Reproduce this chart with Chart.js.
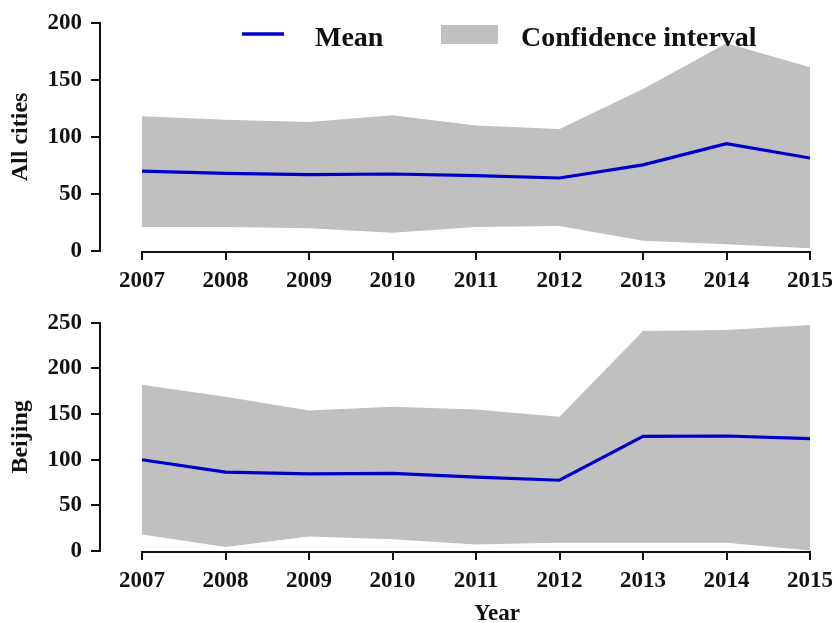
<!DOCTYPE html>
<html>
<head>
<meta charset="utf-8">
<script src="https://cdn.jsdelivr.net/npm/chart.js@4.4.0/dist/chart.umd.min.js"></script>
<style>
  html, body { margin: 0; padding: 0; background: #fff; }
  .panel { position: absolute; left: 0; }
</style>
</head>
<body>
<div class="panel" style="top:0"><canvas id="allCities" width="835" height="300"></canvas></div>
<div class="panel" style="top:300px"><canvas id="beijing" width="835" height="323"></canvas></div>
<script>
var years = [2007, 2008, 2009, 2010, 2011, 2012, 2013, 2014, 2015];

// All cities
var allMean  = [70, 68, 67, 67.5, 66, 64, 75.5, 94, 81.5];
var allUpper = [118, 115, 113, 119, 110, 107, 142, 182, 161];
var allLower = [21, 21, 20, 16, 21, 22, 9, 6, 2.5];
var allTicks = [0, 50, 100, 150, 200];

// Beijing
var bjMean  = [100, 86.5, 84.5, 85, 81, 77.5, 125.5, 126, 123];
var bjUpper = [182, 169, 154, 158, 155, 147, 241, 242, 247.5];
var bjLower = [18, 4.5, 16, 13, 7, 9, 9, 9, 0.5];
var bjTicks = [0, 50, 100, 150, 200, 250];

var legendLabels = ['Mean', 'Confidence interval'];

var serif = "'Liberation Serif', 'Times New Roman', serif";
var blue = '#0000cc';
var grey = '#c0c0c0';
var ink = '#111';

function pts(arr) {
  return years.map(function (yr, i) { return { x: yr, y: arr[i] }; });
}

// x axis line only runs from first to last year (R style)
var xAxisLine = {
  id: 'xAxisLine',
  afterDraw: function (chart) {
    var x = chart.scales.x, y = chart.scales.y, c = chart.ctx;
    var py = Math.round(y.getPixelForValue(0)) + 1;
    c.save();
    c.strokeStyle = ink;
    c.lineWidth = 2;
    c.beginPath();
    c.moveTo(x.getPixelForValue(years[0]) - 1, py);
    c.lineTo(x.getPixelForValue(years[years.length - 1]) + 1, py);
    c.stroke();
    c.restore();
  }
};

var legendPlugin = {
  id: 'legendPlugin',
  afterDraw: function (chart) {
    var c = chart.ctx;
    c.save();
    c.strokeStyle = blue;
    c.lineWidth = 3.5;
    c.beginPath();
    c.moveTo(242, 34);
    c.lineTo(284, 34);
    c.stroke();
    c.fillStyle = grey;
    c.fillRect(441, 25, 57, 19);
    c.fillStyle = ink;
    c.font = 'bold 28px ' + serif;
    c.textBaseline = 'alphabetic';
    c.fillText(legendLabels[0], 315, 46);
    c.fillText(legendLabels[1], 521, 46);
    c.restore();
  }
};

var yearTitle = {
  id: 'yearTitle',
  afterDraw: function (chart) {
    var c = chart.ctx;
    c.save();
    c.fillStyle = ink;
    c.font = 'bold 23px ' + serif;
    c.textAlign = 'center';
    c.textBaseline = 'alphabetic';
    c.fillText('Year', 497, 320);
    c.restore();
  }
};

function makeChart(id, mean, upper, lower, ticks, yTitle, xHeight, top, plugins) {
  return new Chart(document.getElementById(id), {
    type: 'line',
    data: {
      datasets: [
        { label: legendLabels[0], data: pts(mean), borderColor: blue, borderWidth: 3.2, pointRadius: 0, fill: false, tension: 0 },
        { label: 'lower', data: pts(lower), borderWidth: 0, pointRadius: 0, fill: false, borderColor: 'rgba(0,0,0,0)' },
        { label: legendLabels[1], data: pts(upper), borderWidth: 0, pointRadius: 0, fill: '-1', backgroundColor: grey, borderColor: 'rgba(0,0,0,0)' }
      ]
    },
    options: {
      responsive: false,
      animation: false,
      layout: { padding: { top: top, right: 25, left: 0, bottom: 0 } },
      plugins: { legend: { display: false }, tooltip: { enabled: false } },
      scales: {
        x: {
          type: 'linear',
          min: 2006.497,
          max: 2015,
          afterBuildTicks: function (s) { s.ticks = years.map(function (v) { return { value: v }; }); },
          afterFit: function (s) { s.height = xHeight; s.paddingLeft = 0; s.paddingRight = 0; },
          ticks: {
            autoSkip: false, maxRotation: 0, padding: 7, color: ink,
            font: { family: serif, size: 23, weight: 'bold' },
            callback: function (v) { return String(v); }
          },
          grid: { drawOnChartArea: false, drawTicks: true, tickLength: 9, color: ink, lineWidth: 2 },
          border: { display: false }
        },
        y: {
          min: ticks[0],
          max: ticks[ticks.length - 1],
          afterBuildTicks: function (s) { s.ticks = ticks.map(function (v) { return { value: v }; }); },
          afterFit: function (s) { s.width = 100; },
          ticks: {
            padding: 9, color: ink,
            font: { family: serif, size: 23, weight: 'bold' }
          },
          grid: { drawOnChartArea: false, drawTicks: true, tickLength: 9, color: ink, lineWidth: 2 },
          border: { display: true, color: ink, width: 2 },
          title: {
            display: true, text: yTitle, color: ink,
            font: { family: serif, size: 24, weight: 'bold' },
            padding: { top: 6, bottom: 0 }
          }
        }
      }
    },
    plugins: plugins
  });
}

makeChart('allCities', allMean, allUpper, allLower, allTicks, 'All cities', 49, 21, [xAxisLine, legendPlugin]);
makeChart('beijing', bjMean, bjUpper, bjLower, bjTicks, 'Beijing', 72, 20, [xAxisLine, yearTitle]);
</script>
</body>
</html>
